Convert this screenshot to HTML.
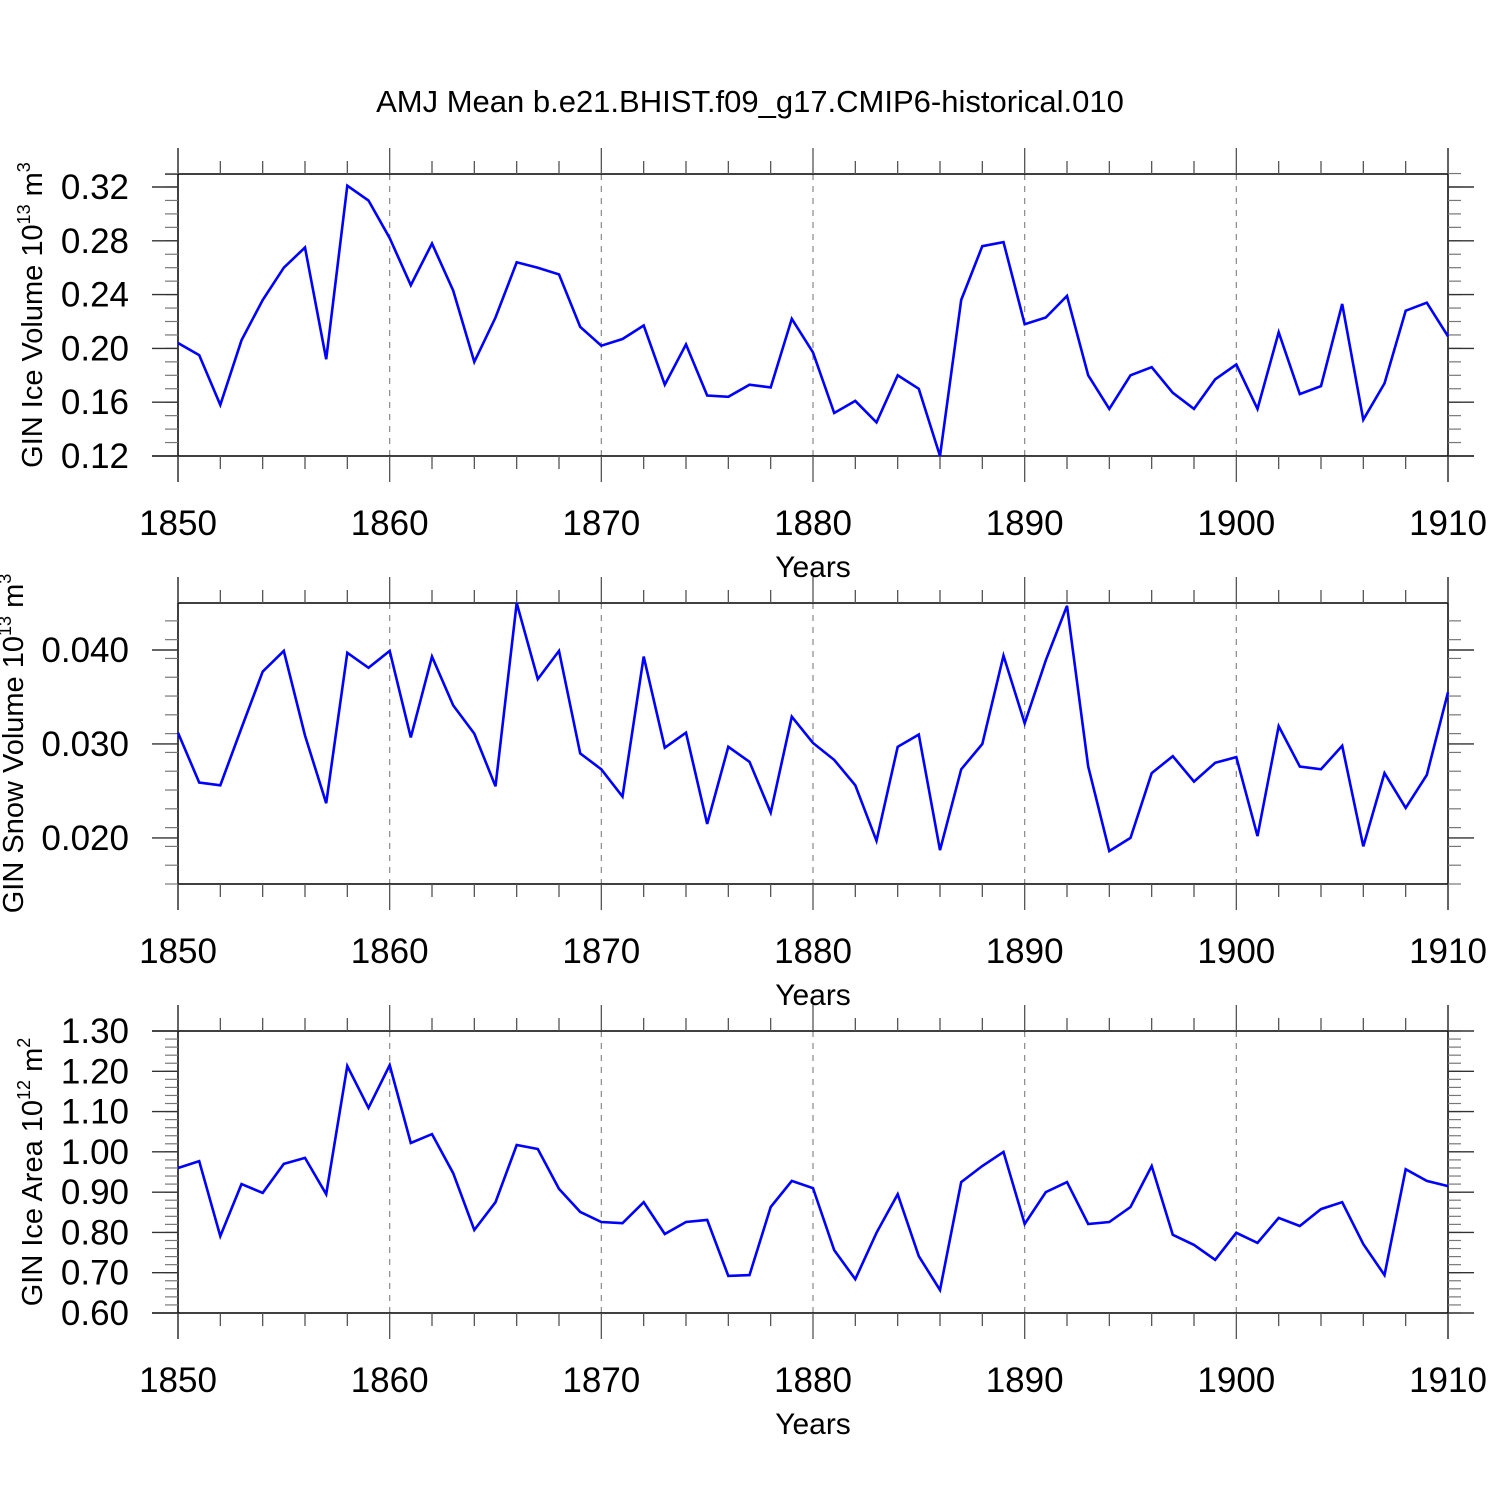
<!DOCTYPE html>
<html><head><meta charset="utf-8">
<style>
html,body{margin:0;padding:0;background:#fff;}
svg{display:block;font-family:"Liberation Sans",sans-serif;}
</style></head>
<body>
<svg id="chart" width="1500" height="1500" viewBox="0 0 1500 1500" xmlns="http://www.w3.org/2000/svg">
<rect width="1500" height="1500" fill="#fff"/>
<text x="750" y="112" font-size="31" text-anchor="middle">AMJ Mean b.e21.BHIST.f09_g17.CMIP6-historical.010</text>
</svg>
<script>
const years = [];
for (let y = 1850; y <= 1910; y++) years.push(y);
const iceVolume = [0.204,0.195,0.158,0.206,0.236,0.260,0.275,0.192,0.321,0.310,0.282,0.247,0.278,0.243,0.190,0.223,0.264,0.260,0.255,0.216,0.202,0.207,0.217,0.173,0.203,0.165,0.164,0.173,0.171,0.222,0.197,0.152,0.161,0.145,0.180,0.170,0.120,0.236,0.276,0.279,0.218,0.223,0.239,0.180,0.155,0.180,0.186,0.167,0.155,0.177,0.188,0.155,0.212,0.166,0.172,0.233,0.147,0.174,0.228,0.234,0.209];
const snowVolume = [0.0312,0.0259,0.0256,0.0317,0.0377,0.0399,0.0309,0.0237,0.0397,0.0381,0.0399,0.0307,0.0393,0.0341,0.0311,0.0255,0.0450,0.0369,0.0399,0.0290,0.0273,0.0244,0.0393,0.0296,0.0312,0.0215,0.0297,0.0281,0.0227,0.0329,0.0301,0.0283,0.0256,0.0197,0.0297,0.0310,0.0187,0.0273,0.0300,0.0394,0.0322,0.0389,0.0447,0.0276,0.0186,0.0200,0.0269,0.0287,0.0260,0.0280,0.0286,0.0202,0.0319,0.0276,0.0273,0.0298,0.0191,0.0269,0.0232,0.0267,0.0355];
const iceArea = [0.960,0.977,0.791,0.920,0.898,0.970,0.985,0.895,1.213,1.109,1.215,1.022,1.044,0.947,0.806,0.875,1.017,1.007,0.908,0.851,0.826,0.823,0.875,0.796,0.826,0.831,0.692,0.694,0.863,0.928,0.910,0.756,0.684,0.799,0.895,0.741,0.657,0.925,0.965,1.000,0.821,0.900,0.925,0.821,0.826,0.863,0.965,0.794,0.769,0.732,0.799,0.774,0.836,0.816,0.858,0.875,0.771,0.694,0.957,0.928,0.915];
const xTicks = [1850,1860,1870,1880,1890,1900,1910];
const yTicks1 = [0.12,0.16,0.20,0.24,0.28,0.32];
const yTicks2 = [0.020,0.030,0.040];
const yTicks3 = [0.60,0.70,0.80,0.90,1.00,1.10,1.20,1.30];

const svg = document.getElementById('chart');
const NS = 'http://www.w3.org/2000/svg';
function mk(tag, attrs, parent) {
  const e = document.createElementNS(NS, tag);
  for (const k in attrs) e.setAttribute(k, attrs[k]);
  (parent || svg).appendChild(e);
  return e;
}
const L = 178, R = 1448;
function xs(yr) { return L + (yr - 1850) * (R - L) / 60; }

function panel(id, top, bot, ymin, ymax, data, ticks, dec, minorStep, titleMain, sup, unit, supUnit, ext, titleX) {
  const g = mk('g', {});
  
  
  const ys = v => bot - (v - ymin) * (bot - top) / (ymax - ymin);
  xTicks.slice(1, -1).forEach(t => {
    const l = mk('line', {x1: xs(t), x2: xs(t), y1: top, y2: bot, stroke: '#888', 'stroke-width': 1.2, 'stroke-dasharray': '6,6'}, g);
    
    
  });
  const fr = [[L, top - 26, L, bot + 26], [R, top - 26, R, bot + 26], [L - ext[0], top, R + ext[1], top], [L - ext[2], bot, R + ext[3], bot]];
  fr.forEach(f => {
    const l = mk('line', {x1: f[0], y1: f[1], x2: f[2], y2: f[3], stroke: '#000', 'stroke-width': 1.5}, g);
    
    
  });
  for (let yr = 1850; yr <= 1910; yr += 2) {
    const major = (yr % 10 === 0);
    const len = major ? 26 : 13;
    mk('line', {x1: xs(yr), x2: xs(yr), y1: bot, y2: bot + len, stroke: '#555', 'stroke-width': 1.3}, g);
    mk('line', {x1: xs(yr), x2: xs(yr), y1: top, y2: top - len, stroke: '#555', 'stroke-width': 1.3}, g);
  }
  xTicks.forEach(t => {
    const tx = mk('text', {x: xs(t), y: bot + 79, 'font-size': 35, 'text-anchor': 'middle'}, g);
    
    
    tx.textContent = t;
  });
  const xt = mk('text', {x: 813, y: bot + 121, 'font-size': 30, 'text-anchor': 'middle'}, g);
  
  
  xt.textContent = 'Years';
  const nMin = Math.round((ymax - ymin) / minorStep);
  for (let i = 0; i <= nMin; i++) {
    const v = ymin + i * minorStep;
    const yy = ys(v);
    if (yy < top - 0.5 || yy > bot + 0.5) continue;
    mk('line', {x1: L, x2: L - 13, y1: yy, y2: yy, stroke: '#777', 'stroke-width': 1.2}, g);
    mk('line', {x1: R, x2: R + 13, y1: yy, y2: yy, stroke: '#777', 'stroke-width': 1.2}, g);
  }
  ticks.forEach(t => {
    const yy = ys(t);
    mk('line', {x1: L, x2: L - 26, y1: yy, y2: yy, stroke: '#333', 'stroke-width': 1.4}, g);
    mk('line', {x1: R, x2: R + 26, y1: yy, y2: yy, stroke: '#333', 'stroke-width': 1.4}, g);
    const tx = mk('text', {x: 129, y: yy + 12, 'font-size': 35, 'text-anchor': 'end'}, g);
    
    
    tx.textContent = t.toFixed(dec);
  });
  const cy = (top + bot) / 2;
  const yt = mk('text', {x: 0, y: 0, 'font-size': 29, 'text-anchor': 'middle', transform: 'translate(' + titleX + ',' + cy + ') rotate(-90)'}, g);
  
  
  yt.innerHTML = titleMain + '<tspan font-size="18" dy="-12">' + sup + '</tspan><tspan dy="12"> ' + unit + '</tspan><tspan font-size="18" dy="-12">' + supUnit + '</tspan>';
  const pts = data.map((v, i) => xs(years[i]).toFixed(1) + ',' + ys(v).toFixed(1)).join(' ');
  const pl = mk('polyline', {points: pts, fill: 'none', stroke: '#0000ff', 'stroke-width': 2.6, 'stroke-linejoin': 'miter'}, g);
  
  
}
panel('ice-volume', 174, 456, 0.12, 0.12 + 282 / 1345, iceVolume, yTicks1, 2, 0.01, 'GIN Ice Volume 10', '13', 'm', '3', [13, 0, 26, 26], 42);
panel('snow-volume', 603, 884, 0.0151, 0.0450, snowVolume, yTicks2, 3, 0.002, 'GIN Snow Volume 10', '13', 'm', '3', [0, 0, 0, 0], 23);
panel('ice-area', 1031, 1313, 0.60, 1.30, iceArea, yTicks3, 2, 0.02, 'GIN Ice Area 10', '12', 'm', '2', [26, 0, 26, 0], 42);
</script>
</body></html>
